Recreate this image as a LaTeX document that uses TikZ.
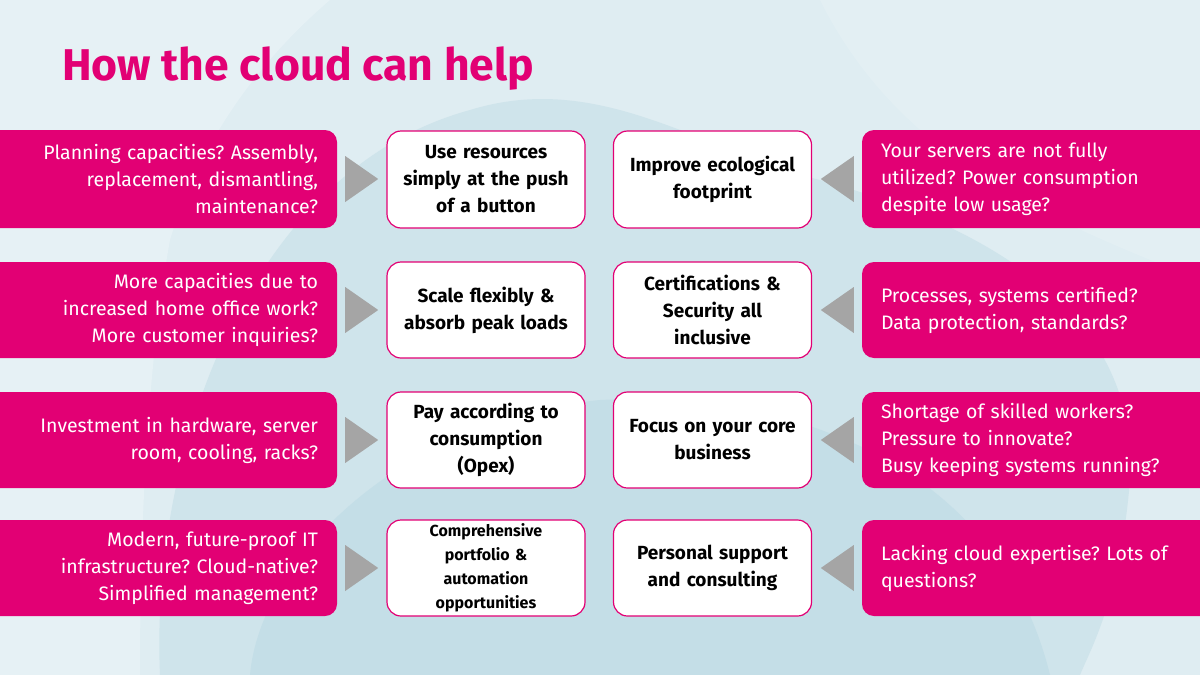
\documentclass[tikz,border=0pt]{standalone}
\usepackage{fontspec}
\setmainfont{Fira Sans}
\usetikzlibrary{calc}
\definecolor{tmag}{HTML}{E20074}
\definecolor{bgA}{HTML}{DFEDF2}
\definecolor{bgB}{HTML}{CFE4EB}
\definecolor{bgC}{HTML}{C4DEE7}
\definecolor{bgD}{HTML}{E6F1F5}
\definecolor{trigray}{HTML}{A5A5A5}
\tikzset{
  lbox/.style={fill=tmag, rounded corners=12pt, minimum width=357pt, text width=319pt, inner xsep=19pt, align=right, text=white, font=\fontsize{19.5}{27}\selectfont},
  rbox/.style={fill=tmag, rounded corners=12pt, minimum width=358pt, text width=320pt, inner xsep=19pt, align=left, text=white, font=\fontsize{19.5}{27}\selectfont},
  cbox/.style={fill=white, draw=tmag, line width=1.2pt, rounded corners=14pt, minimum width=198pt, text width=186pt, inner xsep=6pt, align=center, text=black, font=\fontsize{19}{27}\selectfont\bfseries},
  tri/.style={fill=trigray},
}
\begin{document}
\frenchspacing
\begin{tikzpicture}[x=1pt,y=-1pt]
\useasboundingbox (0,0) rectangle (1200,675);
% background
\fill[bgA] (0,0) rectangle (1200,675);
\fill[bgD] (0,0) -- (330,0) .. controls (260,60) and (200,140) .. (170,240)
  .. controls (150,350) and (140,500) .. (140,675) -- (0,675) -- cycle;
\fill[bgB] (160,675) .. controls (150,450) and (250,170) .. (470,110)
  .. controls (600,70) and (700,150) .. (820,180)
  .. controls (1000,230) and (1140,320) .. (1130,480)
  .. controls (1120,600) and (1090,650) .. (1080,675) -- cycle;
\fill[bgC] (250,675) .. controls (260,560) and (400,420) .. (600,400)
  .. controls (800,390) and (1000,470) .. (1050,675) -- cycle;
\fill[bgD, opacity=0.6] (820,0) -- (1200,0) -- (1200,280) .. controls (1050,220) and (900,160) .. (820,0) -- cycle;

% title
\node[anchor=base west, text=tmag, font=\fontsize{44.5}{52}\selectfont\bfseries, inner sep=0pt] (title) at (62,80) {How the cloud can help};

% row 1
\node[lbox, minimum height=98pt] (l1) at (158.5,179) {Planning capacities? Assembly,\\ replacement, dismantling,\\ maintenance?};
\node[cbox, minimum height=97pt] (c1) at (486,179.5) {Use resources\\ simply at the push\\ of a button};
\node[cbox, minimum height=97pt] (d1) at (712.5,179.5) {Improve ecological\\ footprint};
\node[rbox, minimum height=98pt] (r1) at (1041,179) {Your servers are not fully\\ utilized? Power consumption\\ despite low usage?};
% row 2
\node[lbox, minimum height=96pt] (l2) at (158.5,310) {More capacities due to\\ increased home office work?\\ More customer inquiries?};
\node[cbox, minimum height=96pt] (c2) at (486,310) {Scale flexibly \&\\ absorb peak loads};
\node[cbox, minimum height=96pt] (d2) at (712.5,310) {Certifications \&\\ Security all\\ inclusive};
\node[rbox, minimum height=96pt] (r2) at (1041,310) {Processes, systems certified?\\ Data protection, standards?};
% row 3
\node[lbox, minimum height=96pt] (l3) at (158.5,440) {Investment in hardware, server\\ room, cooling, racks?};
\node[cbox, minimum height=96pt] (c3) at (486,440) {Pay according to\\ consumption\\ (Opex)};
\node[cbox, minimum height=96pt] (d3) at (712.5,440) {Focus on your core\\ business};
\node[rbox, minimum height=96pt] (r3) at (1041,440) {Shortage of skilled workers?\\ Pressure to innovate?\\ Busy keeping systems running?};
% row 4
\node[lbox, minimum height=96pt] (l4) at (158.5,568) {Modern, future-proof IT\\ infrastructure? Cloud-native?\\ Simplified management?};
\node[cbox, minimum height=96pt, font=\fontsize{16}{24}\selectfont\bfseries] (c4) at (486,568) {Comprehensive\\ portfolio \&\\ automation\\ opportunities};
\node[cbox, minimum height=96pt] (d4) at (712.5,568) {Personal support\\ and consulting};
\node[rbox, minimum height=96pt] (r4) at (1041,568) {Lacking cloud expertise? Lots of\\ questions?};

% triangles
\foreach \i in {1,2,3,4}{
  \fill[tri] ($(l\i.east)+(8,-23)$) -- ($(l\i.east)+(41,0)$) -- ($(l\i.east)+(8,23)$) -- cycle;
  \fill[tri] ($(r\i.west)+(-8,-23)$) -- ($(r\i.west)+(-41,0)$) -- ($(r\i.west)+(-8,23)$) -- cycle;
}
\end{tikzpicture}
\end{document}
